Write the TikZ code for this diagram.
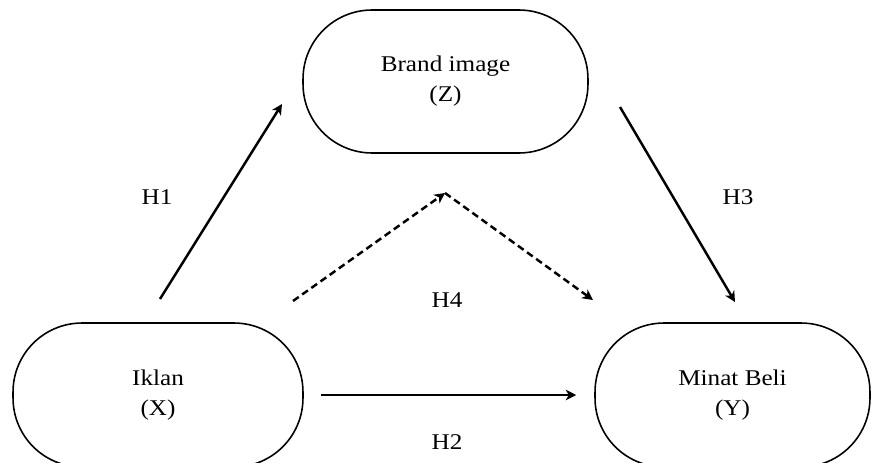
\documentclass[tikz,border=0pt]{standalone}
\usepackage{fontspec}
\setmainfont[FakeStretch=1.12]{Liberation Serif}
\usetikzlibrary{arrows.meta}

\tikzstyle{var} = [rectangle, draw, line width=0.9pt, rounded corners=1.38cm,
    align=center, inner sep=0pt, font=\fontsize{12.8}{17}\selectfont]
\tikzstyle{line} = [draw, line width=1.4pt, -{Stealth[length=6pt, width=6pt, inset=1.8pt]}]
\tikzstyle{dline} = [line, dash pattern=on 4pt off 2.4pt]
\tikzstyle{hyp} = [font=\fontsize{12.8}{15}\selectfont]

\begin{document}
\begin{tikzpicture}[x=0.02cm, y=-0.02cm]
	\useasboundingbox (0,0) rectangle (872,463);
	% Nodes
	\node [var, minimum width=5.7cm, minimum height=2.86cm] (BrandImage) at (445.5,81.5) {Brand image\\(Z)};
	\node [var, minimum width=5.8cm, minimum height=2.88cm] (Iklan) at (158,395) {Iklan\\(X)};
	\node [var, minimum width=5.5cm, minimum height=2.88cm] (MinatBeli) at (732.5,395) {Minat Beli\\(Y)};

	% Free ends
	\coordinate (H1from) at (160,299);
	\coordinate (H1to) at (282,104);
	\coordinate (H3from) at (620,107);
	\coordinate (H3to) at (735,302);
	\coordinate (H4from) at (293,301);
	\coordinate (H4mid) at (445,193);
	\coordinate (H4to) at (593,300);

	% Labels
	\node [hyp] (LabelH1) at (157,197) {H1};
	\node [hyp] (LabelH3) at (738,197) {H3};
	\node [hyp] (LabelH4) at (447,300) {H4};
	\node [hyp] (LabelH2) at (447,442) {H2};

	% Arrows
	\path [line] (H1from) -- (H1to);
	\path [line] (H3from) -- (H3to);
	\path [line, shorten <=0.34cm, shorten >=0.36cm] (Iklan.east) -- (MinatBeli.west);
	\path [dline] (H4from) -- (H4mid);
	\path [dline] (H4mid) -- (H4to);
\end{tikzpicture}
\end{document}
